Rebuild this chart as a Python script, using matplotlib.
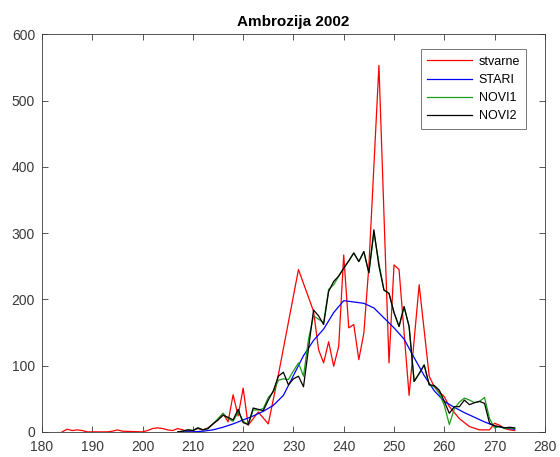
import matplotlib
matplotlib.use('Agg')
import matplotlib.pyplot as plt

plt.rcParams['font.family'] = ['Liberation Sans', 'DejaVu Sans']

# measured pollen counts (day of year, value)
stvarne_x = [184, 185, 186, 187, 188, 189, 193, 194, 195, 196, 200, 201, 202, 203, 204, 205, 206, 207, 208, 209,
             210, 211, 212, 213, 214, 215, 216, 217, 218, 219, 220, 221, 223, 225, 227, 231, 234, 235, 236, 237,
             238, 239, 240, 241, 242, 243, 244, 245, 247, 249, 250, 251, 253, 255, 257, 258, 260, 261, 263, 265,
             267, 269, 270, 271, 272, 273, 274]
stvarne_y = [0, 4, 2, 3, 2, 0, 0, 1, 3, 1, 0, 2, 5, 6, 5, 3, 2, 5, 3, 1,
             2, 5, 3, 6, 12, 18, 28, 15, 56, 24, 66, 10, 30, 12, 86, 245, 182, 124, 104, 136,
             99, 129, 267, 157, 162, 109, 149, 250, 553, 104, 252, 245, 55, 222, 84, 68, 53, 38, 20, 8,
             3, 3, 13, 10, 5, 3, 2]

# old model
stari_x = [208, 210, 212, 214, 216, 218, 220, 222, 224, 226, 228, 230, 232, 234, 236, 238, 240, 242, 244, 246,
           248, 250, 252, 254, 256, 258, 260, 262, 264, 266, 268, 270, 272, 274]
stari_y = [0, 0, 1, 3, 7, 12, 18, 24, 31, 40, 55, 85, 115, 138, 155, 180, 198, 196, 194, 187,
           172, 157, 140, 112, 85, 62, 46, 37, 29, 22, 15, 9, 6, 4]

# new models
novi_x = list(range(207, 275))
novi1_y = [0, 1, 3, 2, 6, 3, 5, 12, 20, 28, 20, 16, 30, 16, 11, 33, 33, 35, 52, 60,
           78, 80, 79, 92, 104, 84, 140, 175, 170, 165, 215, 222, 235, 247, 258, 270, 257, 272, 240, 300,
           255, 214, 209, 180, 159, 189, 159, 76, 88, 101, 71, 68, 58, 40, 11, 35, 45, 51, 48, 44,
           46, 52, 20, 6, 8, 5, 6, 5]
novi2_y = [0, 1, 3, 2, 6, 3, 5, 12, 18, 25, 22, 18, 34, 14, 11, 36, 34, 32, 48, 62,
           84, 90, 71, 80, 84, 68, 126, 184, 175, 162, 212, 227, 235, 247, 258, 270, 257, 272, 240, 305,
           250, 214, 209, 180, 159, 189, 159, 76, 88, 101, 71, 70, 63, 46, 28, 38, 38, 48, 41, 44,
           46, 43, 13, 9, 8, 6, 7, 6]

axcol = '#3a3a3a'

fig = plt.figure(figsize=(5.6, 4.57), dpi=100)
ax = fig.add_axes([0.075, 0.055, 0.898, 0.870])

ax.plot(stvarne_x, stvarne_y, color=(1, 0, 0), lw=0.9, label='stvarne')
ax.plot(stari_x, stari_y, color=(0, 0, 1), lw=0.9, label='STARI')
ax.plot(novi_x, novi1_y, color=(0.1, 0.62, 0.1), lw=0.9, label='NOVI1')
ax.plot(novi_x, novi2_y, color='k', lw=0.9, label='NOVI2')

ax.set_xlim(180, 280)
ax.set_ylim(0, 600)
ax.set_xticks(range(180, 281, 10))
ax.set_yticks(range(0, 601, 100))
ax.tick_params(direction='in', top=True, right=True, length=4, width=0.6,
               colors=axcol, labelsize=10)
ax.tick_params(axis='x', pad=6)
ax.tick_params(axis='y', pad=5)
for s in ax.spines.values():
    s.set_color(axcol)
    s.set_linewidth(0.6)

ax.set_title('Ambrozija 2002', fontsize=11, fontweight='bold', pad=6)

leg = ax.legend(loc='upper right', bbox_to_anchor=(0.963, 0.962), fontsize=9,
                handlelength=3.6, labelspacing=0.5, fancybox=False,
                borderpad=0.5, handletextpad=0.5, borderaxespad=0)
leg.get_frame().set_edgecolor(axcol)
leg.get_frame().set_linewidth(0.6)

fig.savefig('out.png', dpi=100)
